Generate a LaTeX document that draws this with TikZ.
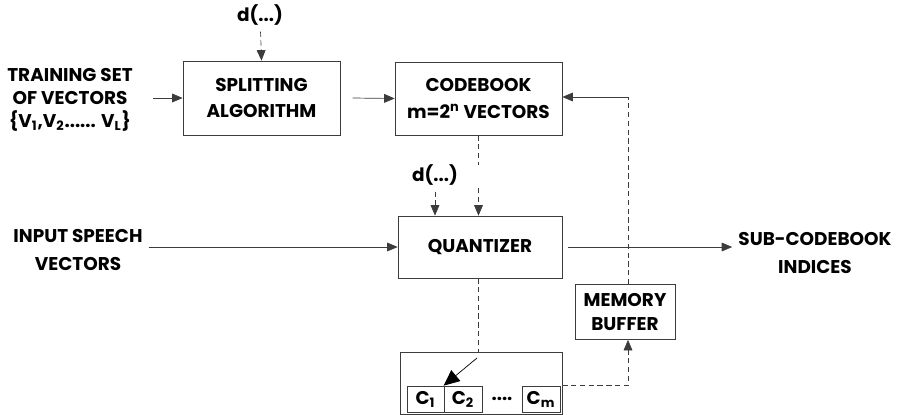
\documentclass[tikz,border=0pt]{standalone}
\usepackage{fontspec}
\setmainfont{Poppins}
\usetikzlibrary{arrows.meta,positioning,calc}
\definecolor{lineink}{RGB}{60,60,60}

\begin{document}
\begin{tikzpicture}[x=0.02cm, y=-0.02cm, font=\fontsize{10.5}{13}\selectfont\bfseries,
  blockbox/.style={draw=lineink, thin, align=center, inner sep=2pt},
  flow/.style={draw=lineink, thin, -{Triangle[length=6pt, width=5pt]}},
  dflow/.style={draw=lineink, thin, dash pattern=on 3pt off 2pt, -{Triangle[length=6pt, width=5pt]}},
  dline/.style={draw=lineink, thin, dash pattern=on 3pt off 2pt}]
\useasboundingbox (0,0) rectangle (900,414);

% Blocks
\node[blockbox, minimum width=3.14cm, minimum height=1.48cm] (split) at (261.5,98) {SPLITTING\\[2pt]ALGORITHM};
\node[blockbox, minimum width=3.34cm, minimum height=1.46cm] (codebook) at (478.5,98.5) {CODEBOOK\\[2pt]m=2\textsuperscript{n} VECTORS};
\node[blockbox, minimum width=3.28cm, minimum height=1.24cm] (quant) at (480,247) {QUANTIZER};
\node[blockbox, minimum width=2cm, minimum height=1.1cm] (membuf) at (625,312) {MEMORY\\[1pt]BUFFER};

% Sub-codebook store
\node[blockbox, minimum width=3.24cm, minimum height=1.24cm] (store) at (481,383) {};
\node[blockbox, minimum width=0.74cm, minimum height=0.52cm, inner sep=0pt] (c1) at (425.5,399) {C\textsubscript{1}};
\node[blockbox, minimum width=0.76cm, minimum height=0.52cm, inner sep=0pt] (c2) at (463,399) {C\textsubscript{2}};
\node[blockbox, minimum width=0.76cm, minimum height=0.52cm, inner sep=0pt] (cm) at (541,399) {C\textsubscript{m}};
\node (cdots) at (502,399) {....};

% Labels
\node[align=center] (train) at (70,100) {TRAINING SET\\OF VECTORS\\\{V\textsubscript{1},V\textsubscript{2}...... V\textsubscript{L}\}};
\node (dsplit) at (260,15) {d(...)};
\node (dquant) at (435,175) {d(...)};
\node[align=center] (input) at (78,250) {INPUT SPEECH\\[3pt]VECTORS};
\node[align=center] (subidx) at (815,253) {SUB-CODEBOOK\\[3pt]INDICES};

% Forward path
\draw[dflow] (dsplit) -- (split.north);
\draw[flow] ([xshift=8pt]train.east |- split.west) -- (split.west);
\draw[flow] ([xshift=7pt]split.east) -- (codebook.west);
\draw[dline] (codebook.south) -- ++(0,30);
\draw[dflow] ([yshift=-30]codebook.south) -- (codebook.south |- quant.north);
\draw[dflow] (dquant) -- (dquant |- quant.north);
\draw[flow] (input.east |- quant.west) -- (quant.west);
\draw[flow] ([xshift=3pt]quant.east) -- (subidx.west |- quant.east);

% Feedback through memory buffer
\coordinate (fbtop) at (628,97);
\draw[dline] (membuf.north -| fbtop) -- (fbtop);
\draw[flow] (fbtop) -- (codebook.east |- fbtop);
\draw[dline] (quant.south -| codebook.south) -- (store.north -| codebook.south);
\draw[dflow] (store.east |- cm.north) -| (membuf.south -| fbtop);

% Pointer into store
\coordinate (ptr) at (477,358);
\draw[draw=black, -{Triangle[length=9pt, width=8pt]}] (ptr) -- (c2.north west);
\end{tikzpicture}
\end{document}
